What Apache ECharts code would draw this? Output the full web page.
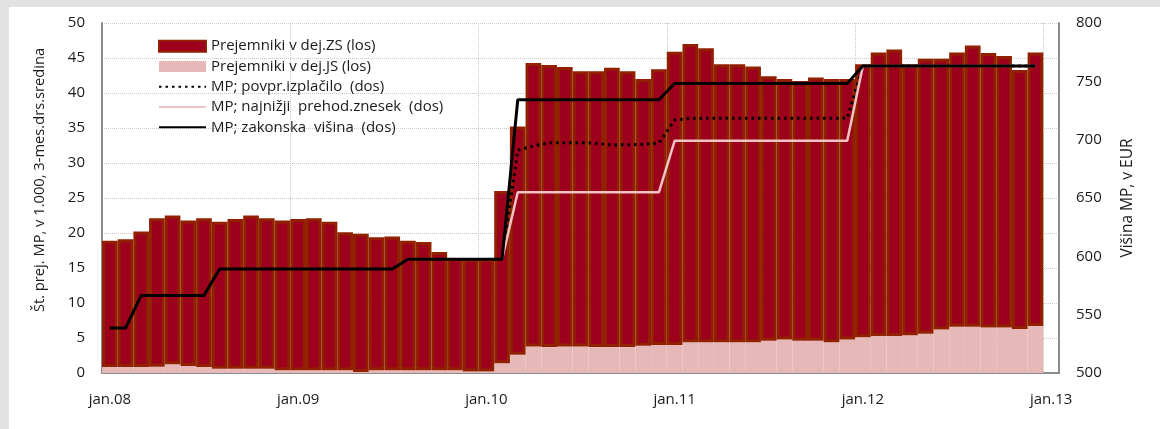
<!DOCTYPE html>
<html>
<head>
<meta charset="utf-8">
<title>Minimalna plača</title>
<script src="https://cdn.jsdelivr.net/npm/echarts@6/dist/echarts.min.js"></script>
<style>
  html, body { margin: 0; padding: 0; background: #ffffff; }
  #main { width: 1160px; height: 429px; }
</style>
</head>
<body>
<div id="main"></div>
<script>
// meseci jan.08 - jan.13 (zadnji brez podatkov)
var months = [
  'jan.08','feb.08','mar.08','apr.08','maj.08','jun.08','jul.08','avg.08','sep.08','okt.08','nov.08','dec.08',
  'jan.09','feb.09','mar.09','apr.09','maj.09','jun.09','jul.09','avg.09','sep.09','okt.09','nov.09','dec.09',
  'jan.10','feb.10','mar.10','apr.10','maj.10','jun.10','jul.10','avg.10','sep.10','okt.10','nov.10','dec.10',
  'jan.11','feb.11','mar.11','apr.11','maj.11','jun.11','jul.11','avg.11','sep.11','okt.11','nov.11','dec.11',
  'jan.12','feb.12','mar.12','apr.12','maj.12','jun.12','jul.12','avg.12','sep.12','okt.12','nov.12','dec.12',
  'jan.13'
];

// prejemniki v dej. JS (tisoč)
var prejJS = [
  0.85, 0.85, 0.85, 0.9, 1.25, 1.0, 0.85, 0.6, 0.6, 0.6, 0.6, 0.4,
  0.4, 0.4, 0.4, 0.4, 0.15, 0.4, 0.4, 0.4, 0.4, 0.4, 0.4, 0.2,
  0.2, 1.4, 2.6, 3.8, 3.7, 3.8, 3.8, 3.7, 3.7, 3.7, 3.9, 4.0,
  4.0, 4.4, 4.4, 4.4, 4.4, 4.4, 4.6, 4.8, 4.6, 4.6, 4.4, 4.8,
  5.1, 5.3, 5.3, 5.4, 5.6, 6.2, 6.6, 6.6, 6.5, 6.5, 6.3, 6.7
];

// prejemniki v dej. ZS (tisoč)
var prejZS = [
  18.05, 18.25, 19.35, 21.2, 21.25, 20.8, 21.25, 21.0, 21.4, 21.9, 21.5, 21.4,
  21.6, 21.7, 21.2, 19.7, 19.75, 19.0, 19.1, 18.5, 18.3, 16.9, 16.0, 16.1,
  16.1, 24.6, 32.6, 40.5, 40.3, 39.9, 39.3, 39.4, 39.9, 39.4, 38.1, 39.4,
  41.9, 42.6, 42.0, 39.7, 39.7, 39.4, 37.8, 37.2, 37.1, 37.6, 37.6, 37.2,
  39.0, 40.5, 40.9, 38.7, 39.3, 38.7, 39.2, 40.2, 39.2, 38.8, 37.0, 39.1
];

// MP; zakonska višina (EUR)
var mpZakon = [
  538.53, 538.53, 566.53, 566.53, 566.53, 566.53, 566.53, 589.19, 589.19, 589.19, 589.19, 589.19,
  589.19, 589.19, 589.19, 589.19, 589.19, 589.19, 589.19, 597.43, 597.43, 597.43, 597.43, 597.43,
  597.43, 597.43, 734.15, 734.15, 734.15, 734.15, 734.15, 734.15, 734.15, 734.15, 734.15, 734.15,
  748.10, 748.10, 748.10, 748.10, 748.10, 748.10, 748.10, 748.10, 748.10, 748.10, 748.10, 748.10,
  763.06, 763.06, 763.06, 763.06, 763.06, 763.06, 763.06, 763.06, 763.06, 763.06, 763.06, 763.06
];

// MP; povpr. izplačilo (EUR)
var mpPovpr = [
  '-', '-', '-', '-', '-', '-', '-', '-', '-', '-', '-', '-',
  '-', '-', '-', '-', '-', '-', '-', '-', '-', '-', '-', '-',
  '-', 597.43, 691.0, 694.6, 697.4, 697.4, 697.4, 696.9, 695.4, 695.7, 696.0, 697.0,
  716.8, 718.3, 718.3, 718.3, 718.3, 718.3, 718.3, 718.3, 718.3, 718.3, 718.3, 718.3,
  763.06, 763.06, 763.06, 763.06, 763.06, 763.06, 763.06, 763.06, 763.06, 763.06, 763.06, 763.06
];

// MP; najnižji prehodni znesek (EUR)
var mpPrehod = [
  '-', '-', '-', '-', '-', '-', '-', '-', '-', '-', '-', '-',
  '-', '-', '-', '-', '-', '-', '-', '-', '-', '-', '-', '-',
  '-', 597.43, 655.0, 655.0, 655.0, 655.0, 655.0, 655.0, 655.0, 655.0, 655.0, 655.0,
  699.0, 699.0, 699.0, 699.0, 699.0, 699.0, 699.0, 699.0, 699.0, 699.0, 699.0, 699.0,
  763.06, 763.06, 763.06, 763.06, 763.06, 763.06, 763.06, 763.06, 763.06, 763.06, 763.06, 763.06
];

var fnt = 'Open Sans';
var txtCol = '#1a1a1a';
var axCol = '#8c8c8c';
var noSym = { opacity: 0 };

var chart = echarts.init(document.getElementById('main'));
chart.setOption({
  backgroundColor: '#ffffff',
  animation: false,
  textStyle: { fontFamily: fnt },
  graphic: [
    { type: 'rect', left: 0, top: 0, shape: { width: 1160, height: 7 }, style: { fill: '#e2e2e2' }, z: -10 },
    { type: 'rect', left: 0, top: 0, shape: { width: 9, height: 429 }, style: { fill: '#e2e2e2' }, z: -10 },
    // naslov leve osi (v izvirniku ni na sredini osi)
    {
      type: 'text', x: 40, y: 180, rotation: Math.PI / 2,
      style: {
        text: 'Št. prej. MP, v 1.000, 3-mes.drs.sredina',
        fill: txtCol, font: '14.7px "Open Sans"',
        align: 'center', verticalAlign: 'middle'
      }
    }
  ],
  grid: { left: 102, right: 101, top: 23, bottom: 56 },
  legend: {
    orient: 'vertical',
    left: 153,
    top: 31,
    itemWidth: 47,
    itemHeight: 11,
    itemGap: 0,
    textStyle: { fontFamily: fnt, fontSize: 15, color: txtCol, lineHeight: 20.3 },
    data: [
      { name: 'Prejemniki v dej.ZS (los)', icon: 'rect' },
      { name: 'Prejemniki v dej.JS (los)', icon: 'rect' },
      { name: 'MP; povpr.izplačilo  (dos)', itemStyle: noSym },
      { name: 'MP; najnižji  prehod.znesek  (dos)', itemStyle: noSym },
      { name: 'MP; zakonska  višina  (dos)', itemStyle: noSym }
    ]
  },
  xAxis: {
    type: 'category',
    data: months,
    boundaryGap: true,
    axisLine: { lineStyle: { color: axCol, width: 2 } },
    axisTick: { show: false, interval: 11 },
    axisLabel: { interval: 11, margin: 19, fontSize: 15, color: txtCol, fontFamily: fnt },
    splitLine: { show: true, interval: 11, lineStyle: { color: '#c8c8c8', type: 'dotted', width: 1 } }
  },
  yAxis: [
    {
      type: 'value',
      min: 0, max: 50, interval: 5,
      axisLine: { show: true, lineStyle: { color: axCol, width: 2 } },
      axisTick: { show: false },
      axisLabel: { margin: 17, fontSize: 15, color: txtCol, fontFamily: fnt },
      splitLine: { show: true, lineStyle: { color: '#c8c8c8', type: 'dotted', width: 1 } }
    },
    {
      type: 'value',
      min: 500, max: 800, interval: 50,
      name: 'Višina MP, v EUR',
      nameLocation: 'middle',
      nameRotate: 90,
      nameGap: 61,
      nameTextStyle: { fontSize: 15.5, color: txtCol, fontFamily: fnt },
      axisLine: { show: true, lineStyle: { color: axCol, width: 2 } },
      axisTick: { show: false },
      axisLabel: { margin: 17, fontSize: 15, color: txtCol, fontFamily: fnt },
      splitLine: { show: false }
    }
  ],
  series: [
    {
      name: 'Prejemniki v dej.JS (los)',
      type: 'bar',
      stack: 'prej',
      barCategoryGap: '0%',
      itemStyle: { color: '#e6b8b7' },
      data: prejJS
    },
    {
      name: 'Prejemniki v dej.ZS (los)',
      type: 'bar',
      stack: 'prej',
      barCategoryGap: '0%',
      itemStyle: { color: '#9c001c', borderColor: '#902000', borderWidth: 3 },
      data: prejZS
    },
    {
      name: 'MP; povpr.izplačilo  (dos)',
      type: 'line',
      yAxisIndex: 1,
      symbol: 'none',
      z: 4,
      lineStyle: { color: '#000000', width: 3, type: [2.5, 4] },
      data: mpPovpr
    },
    {
      name: 'MP; najnižji  prehod.znesek  (dos)',
      type: 'line',
      yAxisIndex: 1,
      symbol: 'none',
      z: 4,
      lineStyle: { color: '#f0c4c4', width: 2.5 },
      data: mpPrehod
    },
    {
      name: 'MP; zakonska  višina  (dos)',
      type: 'line',
      yAxisIndex: 1,
      symbol: 'none',
      z: 5,
      lineStyle: { color: '#000000', width: 3 },
      data: mpZakon
    }
  ]
});
</script>
</body>
</html>
